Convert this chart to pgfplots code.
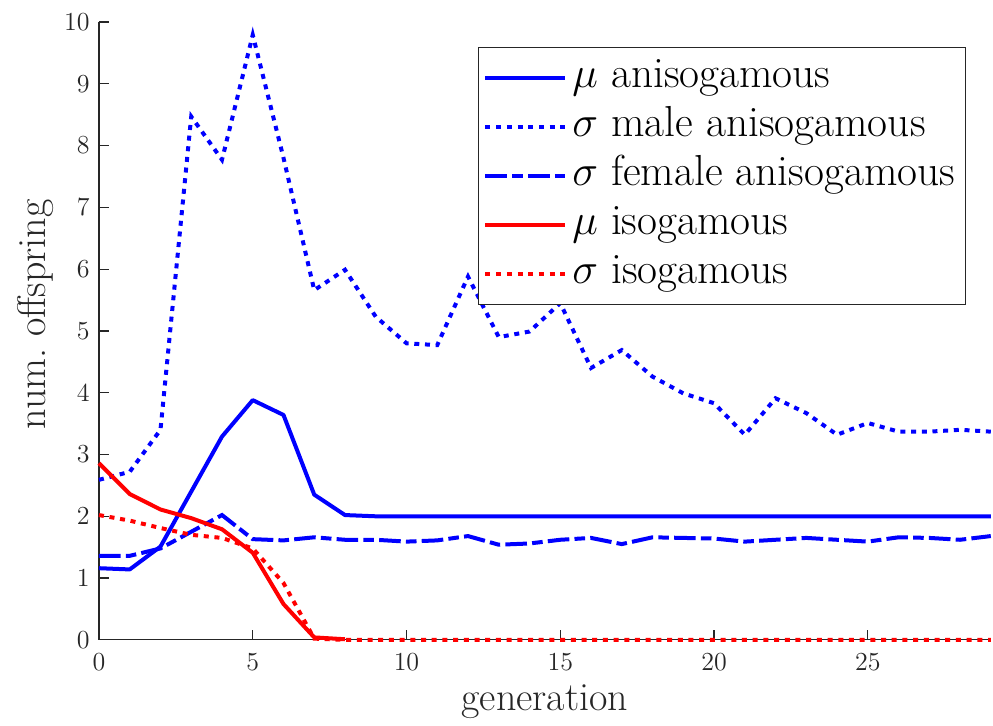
\RequirePackage{fix-cm}
\documentclass[border=0pt]{standalone}
\usepackage{fontspec}
\usepackage{pgfplots}
\pgfplotsset{compat=1.18}
\pgfplotstableread{
x muA sigM sigF sigI
0 1.16 2.59 1.36 2.02
1 1.14 2.72 1.36 1.93
2 1.51 3.40 1.48 1.81
3 2.40 8.47 1.75 1.70
4 3.29 7.77 2.02 1.65
5 3.88 9.79 1.63 1.48
6 3.64 7.80 1.61 0.92
7 2.35 5.66 1.66 0.02
8 2.02 5.99 1.62 0.00
9 2.00 5.23 1.62 0.00
10 2.00 4.80 1.59 0.00
11 2.00 4.77 1.61 0.00
12 2.00 5.88 1.68 0.00
13 2.00 4.90 1.54 0.00
14 2.00 4.99 1.56 0.00
15 2.00 5.45 1.62 0.00
16 2.00 4.40 1.65 0.00
17 2.00 4.69 1.55 0.00
18 2.00 4.26 1.66 0.00
19 2.00 3.99 1.65 0.00
20 2.00 3.83 1.64 0.00
21 2.00 3.32 1.59 0.00
22 2.00 3.91 1.62 0.00
23 2.00 3.67 1.65 0.00
24 2.00 3.32 1.62 0.00
25 2.00 3.51 1.59 0.00
26 2.00 3.37 1.66 0.00
27 2.00 3.37 1.65 0.00
28 2.00 3.40 1.62 0.00
29 2.00 3.37 1.68 0.00
}\data
\pgfplotstableread{
x muI
0 2.86
1 2.36
2 2.11
3 1.97
4 1.79
5 1.41
6 0.58
7 0.04
8 0.01
}\dataiso
\begin{document}
\begin{tikzpicture}
\begin{axis}[
  scale only axis,
  width=446pt, height=309pt,
  xmin=0, xmax=29, ymin=0, ymax=10,
  xtick={0,5,10,15,20,25},
  ytick={0,1,2,3,4,5,6,7,8,9,10},
  axis x line*=bottom, axis y line*=left,
  axis line style={-, black!85, line width=0.6pt},
  tick style={black!85, line width=0.6pt},
  major tick length=5pt,
  tick align=inside,
  clip=false,
  ticklabel style={font=\fontsize{13}{15}\selectfont, text=black!85},
  yticklabel style={xshift=-1.2pt},
  xticklabel style={yshift=-3.2pt},
  xlabel={generation},
  ylabel={num.\ offspring},
  every axis x label/.style={at={(axis description cs:0.5,-0.0615)}, anchor=north, font=\fontsize{20}{24}\selectfont, text=black!85},
  every axis y label/.style={at={(axis description cs:-0.043,0.527)}, rotate=90, anchor=south, font=\fontsize{20}{24}\selectfont, text=black!85},
  legend style={at={(rel axis cs:0.972,0.9595)}, anchor=north east,
    draw=black!85, line width=0.6pt, fill=white,
    font=\fontsize{21.7}{26}\selectfont,
    inner xsep=2.5pt, inner ysep=3pt, row sep=0pt,
    nodes={inner xsep=2.5pt, inner ysep=3pt, text height=14pt, text depth=4.5pt}},
  legend cell align=left,
  legend image code/.code={\draw[#1] (0pt,0pt) -- (40pt,0pt);},
]
\addplot[blue, line width=2pt, line cap=butt, line join=round] table[x=x,y=muA]{\data};
\addlegendentry{$\mu$ anisogamous}
\addplot[blue, line width=2pt, line cap=butt, dash pattern=on 2.5pt off 2.85pt] table[x=x,y=sigM]{\data};
\addlegendentry{$\sigma$ male anisogamous}
\addplot[blue, line width=2pt, line cap=butt, dash pattern=on 10.8pt off 2.6pt on 5.3pt off 2.6pt] table[x=x,y=sigF]{\data};
\addlegendentry{$\sigma$ female anisogamous}
\addplot[red, line width=2pt, line cap=butt, line join=round] table[x=x,y=muI]{\dataiso};
\addlegendentry{$\mu$ isogamous}
\addplot[red, line width=2pt, line cap=butt, dash pattern=on 2.5pt off 2.85pt] table[x=x,y=sigI]{\data};
\addlegendentry{$\sigma$ isogamous}
\end{axis}
\pgfresetboundingbox
\path[use as bounding box] ([xshift=-49.5pt,yshift=-43pt]current axis.south west) rectangle ([xshift=1.1pt,yshift=11pt]current axis.north east);
\end{tikzpicture}
\end{document}
